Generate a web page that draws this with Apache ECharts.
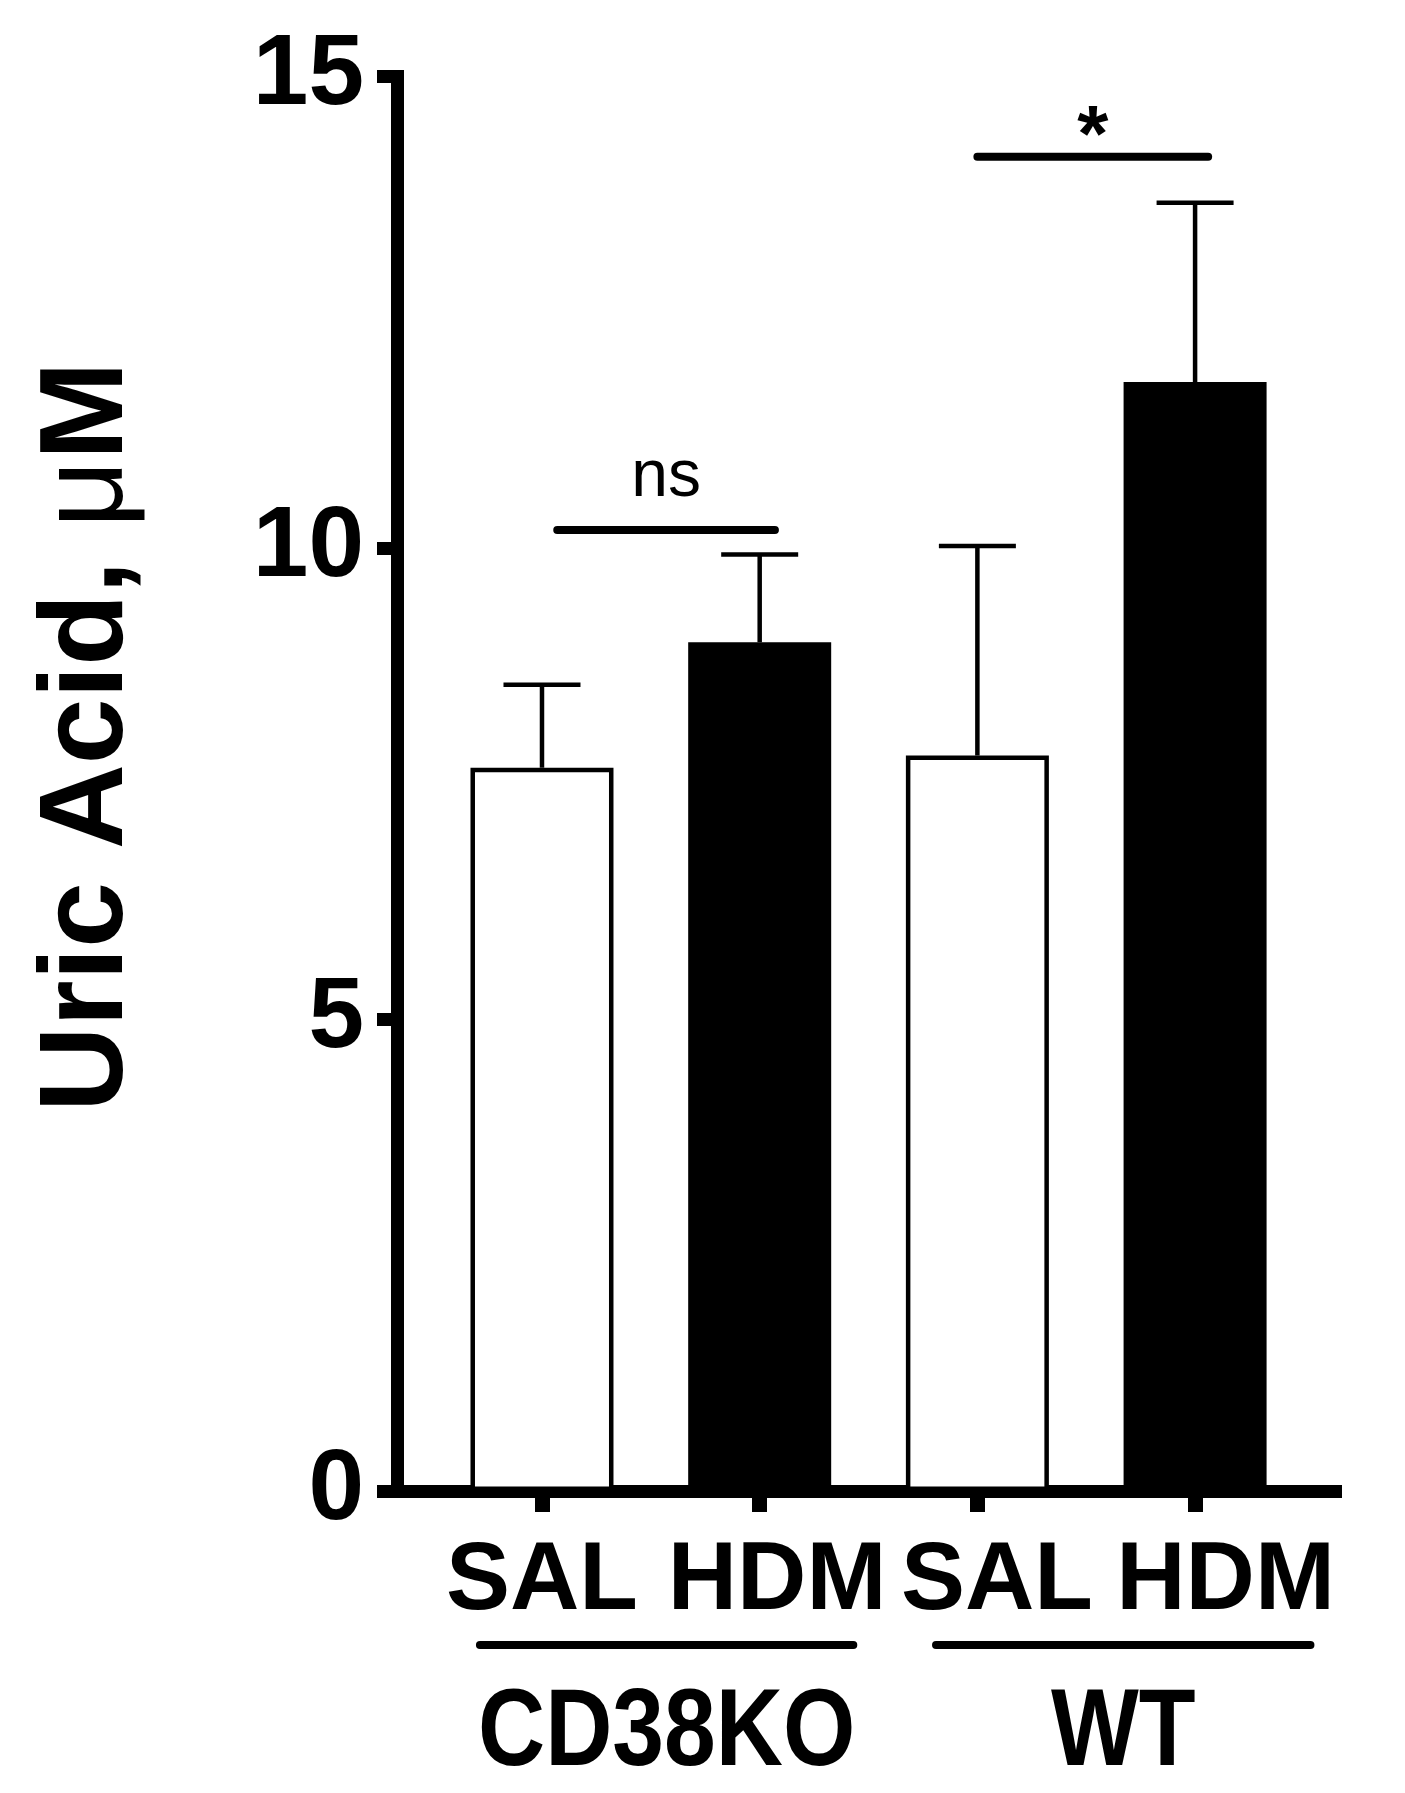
<!DOCTYPE html>
<html><head><meta charset="utf-8">
<script src="https://cdn.jsdelivr.net/npm/echarts@6/dist/echarts.min.js"></script>
<style>html,body{margin:0;padding:0;background:#fff}#c{width:1405px;height:1793px}</style>
</head><body><div id="c"></div>
<script>
// ---- data ----
const categories = ['SAL', 'HDM', 'SAL', 'HDM'];
const means = [7.67, 9.00, 7.80, 11.76];
const errTops = [8.55, 9.93, 10.02, 13.66];      // mean + error
const yTicks = [0, 5, 10, 15];
const groupNames = ['CD38KO', 'WT'];
const groupSpans = [[-0.285, 1.43], [1.81, 3.53]];   // x extent (category units)
const compLabels = ['ns', '*'];
const compSpans = [[0.07, 1.07], [2.0, 3.06]];
const compLevels = [10.19, 14.15];

// ---- style ----
const FONT = '"Liberation Sans", Arial, Helvetica, sans-serif';
const BLACK = '#000';
const fillFor = {SAL: '#ffffff', HDM: '#000000'};
const labelShift = [0, 0.08, 0.09, 0.14];
const compText = {
  'ns': {fontSize: 66, fontWeight: 'normal', dy: -52},
  '*': {fontSize: 80, fontWeight: 'bold', dy: -18}
};

const chart = echarts.init(document.getElementById('c'), null, {renderer: 'canvas'});

const option = {
  animation: false,
  backgroundColor: '#fff',
  grid: {left: 397, top: 76.5, right: 69.5, bottom: 302, containLabel: false},
  xAxis: {
    type: 'value', min: -0.666, max: 3.645,
    splitLine: {show: false},
    axisLine: {show: true, onZero: false, lineStyle: {color: BLACK, width: 13, cap: 'square'}},
    axisTick: {show: true, customValues: categories.map((c, i) => i), length: 21, lineStyle: {color: BLACK, width: 15}},
    axisLabel: {
      show: true,
      customValues: categories.map((c, i) => i + labelShift[i]),
      formatter: v => categories[Math.round(v)],
      fontSize: 96, fontWeight: 'bold', fontFamily: FONT, color: BLACK, margin: 44
    }
  },
  yAxis: {
    type: 'value', min: yTicks[0], max: yTicks[yTicks.length - 1], interval: yTicks[1] - yTicks[0],
    splitLine: {show: false},
    axisLine: {show: true, onZero: false, lineStyle: {color: BLACK, width: 13, cap: 'square'}},
    axisTick: {show: true, length: 20, lineStyle: {color: BLACK, width: 13}},
    axisLabel: {fontSize: 100, fontWeight: 'bold', fontFamily: FONT, color: BLACK, margin: 33},
    name: '{b|Uric Acid, }{m|\u03bc}{b|M}',
    nameLocation: 'middle',
    nameGap: 249,
    nameTextStyle: {
      padding: [0, 0, 0, 94],
      rich: {
        b: {fontSize: 118, fontWeight: 'bold', fontFamily: FONT, color: BLACK},
        m: {fontSize: 118, fontWeight: 'normal', fontFamily: FONT, color: BLACK}
      }
    }
  },
  series: [
    {
      type: 'bar',
      data: means.map((m, i) => [i, m]),
      barWidth: 143,
      itemStyle: {
        color: p => fillFor[categories[p.dataIndex]],
        borderColor: BLACK, borderWidth: 4.5
      },
      z: 2
    },
    {
      type: 'custom',
      clip: false,
      z: 3,
      data: means.map((m, i) => [i, m, errTops[i]]),
      encode: {x: 0, y: 1},
      renderItem(params, api) {
        const x = api.value(0);
        const base = api.coord([x, api.value(1)]);
        const top = api.coord([x, api.value(2)]);
        const half = 38.5;
        const st = {stroke: BLACK, lineWidth: 4.5};
        return {type: 'group', children: [
          {type: 'line', shape: {x1: base[0], y1: base[1], x2: top[0], y2: top[1]}, style: st},
          {type: 'line', shape: {x1: top[0] - half, y1: top[1], x2: top[0] + half, y2: top[1]}, style: st}
        ]};
      }
    },
    {
      type: 'custom',
      clip: false,
      z: 3,
      data: compLabels.map((l, i) => [compSpans[i][0], compLevels[i], compSpans[i][1]]),
      encode: {x: [0, 2], y: 1},
      renderItem(params, api) {
        const p1 = api.coord([api.value(0), api.value(1)]);
        const p2 = api.coord([api.value(2), api.value(1)]);
        const lab = compLabels[params.dataIndex];
        const ts = compText[lab];
        return {type: 'group', children: [
          {type: 'line', shape: {x1: p1[0], y1: p1[1], x2: p2[0], y2: p2[1]},
           style: {stroke: BLACK, lineWidth: 8, lineCap: 'round'}},
          {type: 'text', x: (p1[0] + p2[0]) / 2, y: p1[1] + ts.dy,
           style: {text: lab, fontSize: ts.fontSize, fontWeight: ts.fontWeight, fontFamily: FONT,
                   fill: BLACK, align: 'center', verticalAlign: 'middle'}}
        ]};
      }
    },
    {
      type: 'custom',
      clip: false,
      z: 3,
      data: groupNames.map((g, i) => [groupSpans[i][0], 0, groupSpans[i][1]]),
      encode: {x: [0, 2], y: 1},
      renderItem(params, api) {
        const p1 = api.coord([api.value(0), 0]);
        const p2 = api.coord([api.value(2), 0]);
        const lineY = p1[1] + 154;
        return {type: 'group', children: [
          {type: 'line', shape: {x1: p1[0], y1: lineY, x2: p2[0], y2: lineY},
           style: {stroke: BLACK, lineWidth: 8, lineCap: 'round'}},
          {type: 'text', x: (p1[0] + p2[0]) / 2, y: p1[1] + 244, scaleY: 1.17,
           style: {text: groupNames[params.dataIndex], fontSize: 93, fontWeight: 'bold', fontFamily: FONT,
                   fill: BLACK, align: 'center', verticalAlign: 'middle'}}
        ]};
      }
    }
  ]
};
chart.setOption(option);
</script>
</body></html>
